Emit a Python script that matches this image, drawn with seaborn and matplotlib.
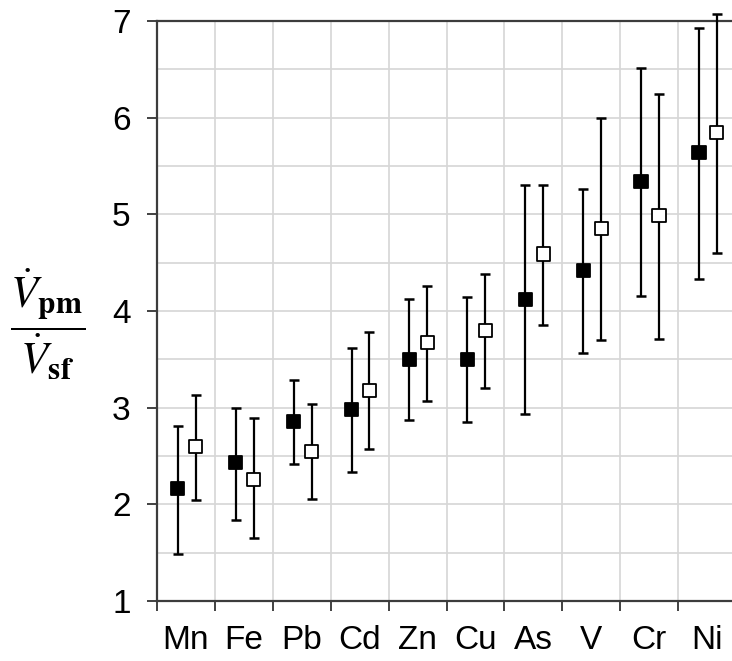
import numpy as np
import pandas as pd
import matplotlib
matplotlib.use("Agg")
import matplotlib.pyplot as plt
import seaborn as sns
from matplotlib.ticker import FixedLocator, MultipleLocator, NullFormatter

# values
elements = ['Mn', 'Fe', 'Pb', 'Cd', 'Zn', 'Cu', 'As', 'V', 'Cr', 'Ni']
filled_mean = [2.16, 2.43, 2.86, 2.98, 3.50, 3.50, 4.12, 4.42, 5.34, 5.64]
filled_low = [1.49, 1.84, 2.42, 2.33, 2.87, 2.85, 2.93, 3.57, 4.15, 4.33]
filled_high = [2.81, 3.00, 3.29, 3.62, 4.12, 4.14, 5.30, 5.26, 6.51, 6.93]
open_mean = [2.60, 2.26, 2.55, 3.18, 3.67, 3.80, 4.59, 4.85, 4.99, 5.85]
open_low = [2.04, 1.65, 2.06, 2.57, 3.07, 3.20, 3.86, 3.70, 3.71, 4.60]
open_high = [3.13, 2.89, 3.04, 3.78, 4.26, 4.38, 5.30, 6.00, 6.24, 7.07]

sns.set_style("white")
plt.rcParams['font.family'] = ['Liberation Sans', 'DejaVu Sans']
plt.rcParams['mathtext.fontset'] = 'stix'

idx = np.arange(len(elements))
df = pd.DataFrame({
    'x': np.concatenate([idx + 0.36, idx + 0.67]),
    'y': filled_mean + open_mean,
    'lo': filled_low + open_low,
    'hi': filled_high + open_high,
    'kind': ['filled'] * len(elements) + ['open'] * len(elements),
})

fig = plt.figure(figsize=(7.32, 6.61), dpi=100)
ax = fig.add_axes([157 / 732, 60 / 661, 579 / 732, 580 / 661])

# error bars first
ax.errorbar(df['x'], df['y'], yerr=[df['y'] - df['lo'], df['hi'] - df['y']],
            fmt='none', ecolor='black', elinewidth=1.6, capsize=3.5,
            capthick=1.8, zorder=3, clip_on=False)

sns.scatterplot(data=df, x='x', y='y', hue='kind', style='kind',
                markers={'filled': 's', 'open': 's'},
                palette={'filled': 'black', 'open': 'white'},
                edgecolor='black', linewidth=1.3, s=90, legend=False,
                zorder=4, ax=ax, clip_on=False)

ax.set_xlim(0, 10)
ax.set_ylim(1, 7)

# grid: every half unit on y, category boundaries on x
ax.xaxis.set_major_locator(MultipleLocator(1))
ax.xaxis.set_major_formatter(NullFormatter())
ax.xaxis.set_minor_locator(FixedLocator(idx + 0.5))
ax.set_xticklabels(elements, minor=True)
ax.yaxis.set_major_locator(MultipleLocator(1))
ax.yaxis.set_minor_locator(MultipleLocator(0.5))
ax.grid(True, which='major', axis='x', color='#d6d6d6', linewidth=1.2)
ax.grid(True, which='both', axis='y', color='#d6d6d6', linewidth=1.2)
ax.set_axisbelow(True)

ax.tick_params(axis='x', which='major', bottom=True, direction='out',
               length=7, width=1.3, color='#333333')
ax.tick_params(axis='x', which='minor', bottom=True, length=0, pad=17,
               labelsize=24, labelcolor='black')
ax.tick_params(axis='y', which='major', left=True, direction='out',
               length=7, width=1.3, color='#333333', pad=12, labelsize=24,
               labelcolor='black')
ax.tick_params(axis='y', which='minor', left=False, length=0)

for side in ['left', 'bottom', 'top', 'right']:
    ax.spines[side].set_color('#3c3c3c')
    ax.spines[side].set_linewidth(1.6)

ax.set_xlabel('')
ax.set_ylabel('')

fig.text(48 / 732, 1 - 324 / 661,
         r'$\dfrac{\dot{V}_{\mathbf{pm}}}{\dot{V}_{\mathbf{sf}}}$',
         fontsize=32, ha='center', va='center', color='black')

fig.savefig('out.png', dpi=100)
